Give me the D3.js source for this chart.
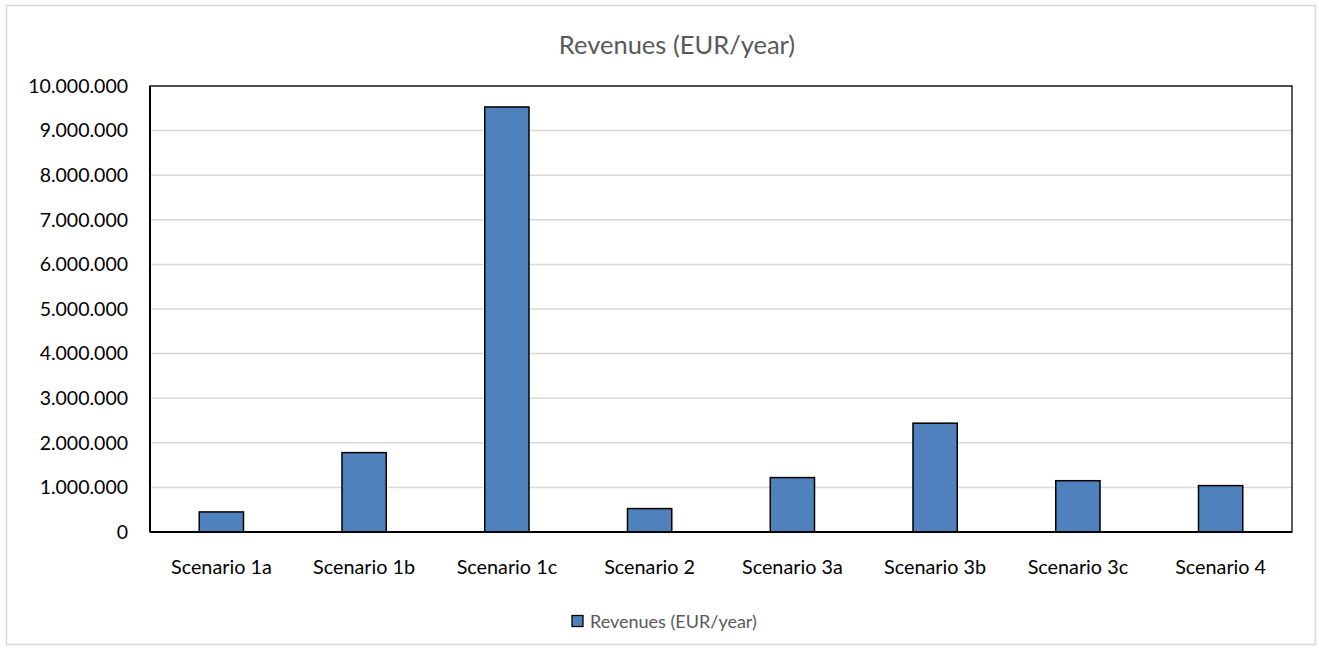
<!DOCTYPE html>
<html><head><meta charset="utf-8">
<script src="https://cdn.jsdelivr.net/npm/d3@7"></script>
<style>body{margin:0;background:#fff;} text{font-family:Lato,"Open Sans",sans-serif;}</style>
</head><body>
<svg id="c" width="1319" height="648"></svg>
<script>
const categories = ["Scenario 1a","Scenario 1b","Scenario 1c","Scenario 2","Scenario 3a","Scenario 3b","Scenario 3c","Scenario 4"];
const revenues = [450000, 1780000, 9530000, 525000, 1220000, 2440000, 1150000, 1040000];
const yTicks = [0,1000000,2000000,3000000,4000000,5000000,6000000,7000000,8000000,9000000,10000000];
const seriesName = "Revenues (EUR/year)";
const titleText = "Revenues (EUR/year)";

const svg = d3.select("#c");
svg.append("rect").attr("x",6.5).attr("y",5.5).attr("width",1309).attr("height",639)
  .attr("fill","#fff").attr("stroke","#d9d9d9").attr("stroke-width",1.5);

const L=150, R=1292, T=86, B=532;
const x = d3.scaleBand().domain(categories).range([L,R]).paddingInner(0.69).paddingOuter(0.345);
const y = d3.scaleLinear().domain([0,10000000]).range([B,T]);
const fmt = v => d3.format(",")(v).replace(/,/g,".");

// gridlines
svg.append("g").selectAll("line").data(yTicks.slice(1)).join("line")
  .attr("x1",L).attr("x2",R).attr("y1",d=>y(d)).attr("y2",d=>y(d))
  .attr("stroke","#d9d9d9").attr("stroke-width",1.5);

// bars
svg.append("g").selectAll("rect").data(revenues).join("rect")
  .attr("x",(d,i)=>x(categories[i])).attr("width",x.bandwidth())
  .attr("y",d=>y(d)).attr("height",d=>B-y(d))
  .attr("fill","#4f81bd").attr("stroke","#000").attr("stroke-width",1.5);

// plot border
svg.append("rect").attr("x",L).attr("y",T).attr("width",R-L).attr("height",B-T)
  .attr("fill","none").attr("stroke","#000").attr("stroke-width",1.3);
svg.append("line").attr("x1",L).attr("x2",L).attr("y1",T).attr("y2",B).attr("stroke","#000").attr("stroke-width",2);
svg.append("line").attr("x1",L).attr("x2",R).attr("y1",B).attr("y2",B).attr("stroke","#000").attr("stroke-width",2);

// y axis
const ya = svg.append("g").attr("transform",`translate(${L},0)`)
  .call(d3.axisLeft(y).tickValues(yTicks).tickFormat(fmt).tickSize(0).tickPadding(22));
ya.select(".domain").remove();
ya.selectAll("text").attr("font-size",19.5).attr("fill","#000").style("font-family","Lato,sans-serif");

// x axis
const xa = svg.append("g").attr("transform",`translate(0,${B})`)
  .call(d3.axisBottom(x).tickSize(0).tickPadding(28));
xa.select(".domain").remove();
xa.selectAll("text").attr("font-size",19.8).attr("fill","#000").style("font-family","Lato,sans-serif");

// title
svg.append("text").attr("x",677).attr("y",54).attr("text-anchor","middle")
  .attr("font-size",25.5).attr("fill","#595959").text(titleText);

// legend
svg.append("rect").attr("x",572).attr("y",615.5).attr("width",11).attr("height",11)
  .attr("fill","#4f81bd").attr("stroke","#000").attr("stroke-width",1.3);
svg.append("text").attr("x",590).attr("y",627.5).attr("font-size",18).attr("fill","#595959").text(seriesName);
</script>
</body></html>
